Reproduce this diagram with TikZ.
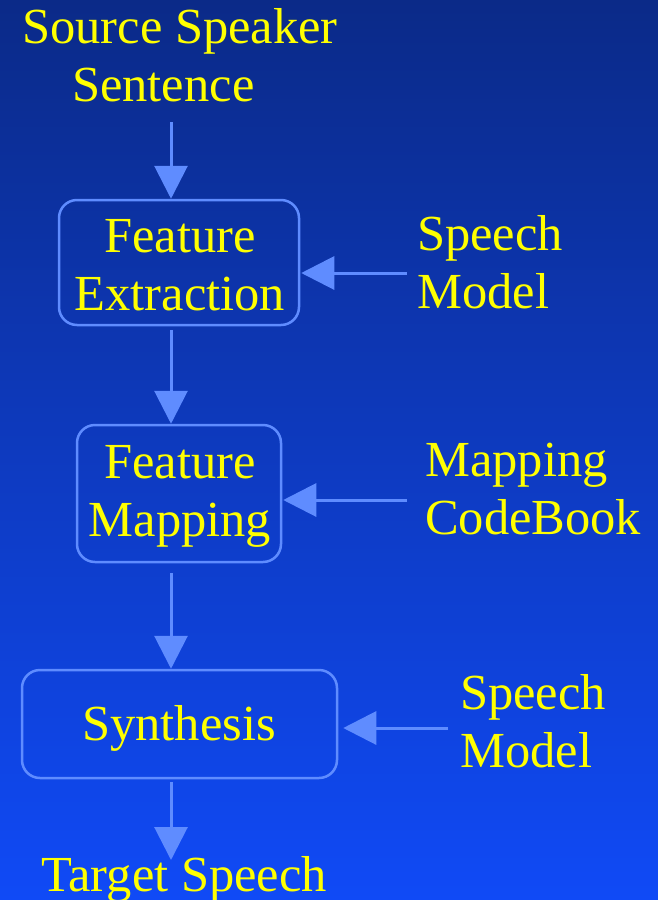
\documentclass[tikz,border=0pt]{standalone}
\usepackage{fontspec}
\setmainfont{Liberation Serif}
\usetikzlibrary{arrows.meta}
\definecolor{bgtop}{HTML}{0B2A88}
\definecolor{bgbot}{HTML}{104AF6}
\definecolor{edgec}{HTML}{5F8CFF}
\definecolor{txtc}{HTML}{FFFF00}
\begin{document}
\begin{tikzpicture}[x=1pt,y=-1pt,
  lab/.style={text=txtc, font=\fontsize{50.5}{57.5}\selectfont, inner sep=0pt},
  blk/.style={draw=edgec, line width=2.5pt, rounded corners=18pt, inner sep=0pt},
  flow/.style={draw=edgec, line width=3pt, -{Triangle[length=33pt,width=33pt]}}]
\shade[top color=bgtop, bottom color=bgbot] (0,0) rectangle (658,900);
\useasboundingbox (0,0) rectangle (658,900);

% labels (base anchor = baseline of last line)
\node[lab, anchor=base west, align=left] (src) at (22,101) {Source Speaker\\\hspace*{50pt}Sentence};
\node[lab, anchor=base west, align=left] (sm1) at (417,308) {Speech\\Model};
\node[lab, anchor=base west, align=left] (mcb) at (425,534) {Mapping\\CodeBook};
\node[lab, anchor=base west, align=left] (sm2) at (460,767) {Speech\\Model};
\node[lab, anchor=base] (tgt) at (184,891) {Target Speech};

% boxes
\node[blk, minimum width=240pt, minimum height=125pt] (fe) at (179,262.5) {};
\node[lab, anchor=base, align=center] (fet) at (180,310) {Feature\\Extraction};
\node[blk, minimum width=204pt, minimum height=137pt] (fm) at (179,493.5) {};
\node[lab, anchor=base, align=center] (fmt) at (180,536) {Feature\\Mapping};
\node[blk, minimum width=315pt, minimum height=108pt] (sy) at (179.5,724) {};
\node[lab, anchor=base] (syt) at (179,740) {Synthesis};

% connectors
\coordinate (a1) at (171,122);
\coordinate (a2) at (171,330);
\coordinate (a3) at (171,573);
\coordinate (a4) at (171,782);
\coordinate (t4) at (171,860);
\draw[flow] (a1) -- (a1 |- fe.north);
\draw[flow] (a2) -- (a2 |- fm.north);
\draw[flow] (a3) -- (a3 |- sy.north);
\draw[flow] (a4) -- (t4);

\coordinate (b1) at (407,273);
\coordinate (b2) at (407,500);
\coordinate (b3) at (448,728);
\draw[flow] (b1) -- ([xshift=1pt]b1 -| fe.east);
\draw[flow] (b2) -- ([xshift=1pt]b2 -| fm.east);
\draw[flow] (b3) -- ([xshift=5pt]b3 -| sy.east);
\end{tikzpicture}
\end{document}
